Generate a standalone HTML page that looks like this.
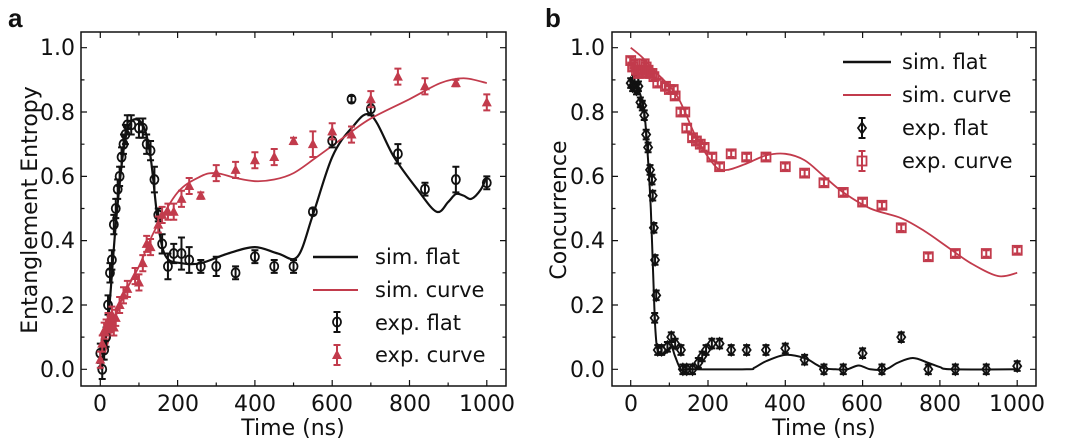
<!DOCTYPE html>
<html><head><meta charset="utf-8"><style>
html,body{margin:0;padding:0;background:#fff;}
svg{display:block;font-family:"DejaVu Sans","Liberation Sans",sans-serif;}
</style></head><body>
<svg id="s" width="1080" height="444" viewBox="0 0 1080 444" xmlns="http://www.w3.org/2000/svg">
<rect width="1080" height="444" fill="#fff"/>
<g id="plot"></g>
<g font-size="22" fill="#111">
<text x="8" y="27" font-size="26" font-weight="bold" font-family="Liberation Sans,sans-serif">a</text>
<text x="545" y="27" font-size="26" font-weight="bold" font-family="Liberation Sans,sans-serif">b</text>
<g text-anchor="end">
<text x="75" y="377">0.0</text><text x="75" y="313">0.2</text><text x="75" y="248">0.4</text><text x="75" y="184">0.6</text><text x="75" y="120">0.8</text><text x="75" y="55">1.0</text>
<text x="605" y="377">0.0</text><text x="605" y="313">0.2</text><text x="605" y="248">0.4</text><text x="605" y="184">0.6</text><text x="605" y="120">0.8</text><text x="605" y="55">1.0</text>
</g>
<g text-anchor="middle">
<text x="100" y="411">0</text><text x="178" y="411">200</text><text x="255" y="411">400</text><text x="332" y="411">600</text><text x="410" y="411">800</text><text x="487" y="411">1000</text>
<text x="631" y="411">0</text><text x="708" y="411">200</text><text x="785" y="411">400</text><text x="862" y="411">600</text><text x="940" y="411">800</text><text x="1017" y="411">1000</text>
<text x="293" y="435">Time (ns)</text><text x="824" y="435">Time (ns)</text>
<text transform="translate(37,210) rotate(-90)">Entanglement Entropy</text>
<text transform="translate(566,210) rotate(-90)">Concurrence</text>
</g>
<g font-size="21">
<text x="375" y="264">sim. flat</text><text x="375" y="297">sim. curve</text><text x="375" y="330">exp. flat</text><text x="375" y="362">exp. curve</text>
<text x="902" y="69">sim. flat</text><text x="902" y="102">sim. curve</text><text x="902" y="135">exp. flat</text><text x="902" y="168">exp. curve</text>
</g>
</g>
</svg>
<script>
var R="#c23b4c",NS="http://www.w3.org/2000/svg",G=document.getElementById("plot");
function el(t,a){var e=document.createElementNS(NS,t);for(var k in a)e.setAttribute(k,a[k]);G.appendChild(e);return e;}
function P(x0){return {x:function(t){return x0+t*0.3865;},y:function(v){return 369.3-v*321.6;}};}
function smooth(pts){var d="M"+pts[0][0]+","+pts[0][1];for(var i=0;i<pts.length-1;i++){var p0=pts[i-1]||pts[i],p1=pts[i],p2=pts[i+1],p3=pts[i+2]||p2;d+=" C"+(p1[0]+(p2[0]-p0[0])/6)+","+(p1[1]+(p2[1]-p0[1])/6)+" "+(p2[0]-(p3[0]-p1[0])/6)+","+(p2[1]-(p3[1]-p1[1])/6)+" "+p2[0]+","+p2[1];}return d;}
function curve(p,data,c,w){el("path",{d:smooth(data.map(function(q){return[p.x(q[0]),p.y(q[1])];})),fill:"none",stroke:c,"stroke-width":w});}
function marker(shape,cx,cy,c){
 if(shape=="o")el("ellipse",{cx:cx,cy:cy,rx:4,ry:4.5,fill:"none",stroke:c,"stroke-width":1.8});
 if(shape=="^")el("polygon",{points:(cx)+","+(cy-5.5)+" "+(cx+5)+","+(cy+4)+" "+(cx-5)+","+(cy+4),fill:c});
 if(shape=="d")el("polygon",{points:cx+","+(cy-5.5)+" "+(cx+4)+","+cy+" "+cx+","+(cy+5.5)+" "+(cx-4)+","+cy,fill:"none",stroke:c,"stroke-width":1.8});
 if(shape=="s")el("rect",{x:cx-4.5,y:cy-4.5,width:9,height:9,fill:"none",stroke:c,"stroke-width":1.8});
}
function pts(p,data,shape,c,e0){data.forEach(function(q){var x=p.x(q[0]),y=p.y(q[1]),e=(q[2]||e0)*321.6;
 el("path",{d:"M"+x+","+(y-e)+"V"+(y+e)+"M"+(x-3.5)+","+(y-e)+"h7M"+(x-3.5)+","+(y+e)+"h7",stroke:c,"stroke-width":2});marker(shape,x,y,c);});}
function frame(l,r){el("rect",{x:l,y:32,width:r-l,height:354,fill:"none",stroke:"#111","stroke-width":1.5});
 var x0=l==81?100.3:630.7;for(var t=0;t<=1000;t+=100){var x=x0+t*0.3865,L=t%200==0?6:3.5;el("path",{d:"M"+x+",386v-"+L+"M"+x+",32v"+L,stroke:"#111","stroke-width":1.2});}
 for(var v=0;v<=1.001;v+=0.1){var y=369.3-v*321.6,L=Math.round(v*10)%2==0?6:3.5;el("path",{d:"M"+l+","+y+"h"+L+"M"+r+","+y+"h-"+L,stroke:"#111","stroke-width":1.2});}}
frame(81,506);frame(612,1036);
var a=P(100.3),b=P(630.7);
curve(a,[[0,0],[20,0.15],[40,0.45],[60,0.68],[80,0.77],[110,0.76],[130,0.66],[150,0.45],[170,0.35],[210,0.33],[260,0.33],[330,0.36],[400,0.38],[460,0.36],[510,0.35],[550,0.48],[600,0.66],[650,0.75],[700,0.79],[760,0.66],[820,0.56],[870,0.49],[900,0.52],[920,0.545],[940,0.54],[960,0.53],[985,0.56],[1000,0.6]],"#111",2.2);
curve(a,[[0,0],[50,0.2],[100,0.32],[140,0.43],[200,0.55],[260,0.6],[300,0.61],[350,0.595],[400,0.585],[450,0.59],[500,0.61],[560,0.66],[640,0.73],[700,0.78],[800,0.84],[880,0.89],[940,0.905],[1000,0.89]],R,1.8);
pts(a,[[0,0.05],[5,0.0],[10,0.06],[15,0.1],[20,0.2],[25,0.3],[30,0.34],[35,0.45],[40,0.5],[45,0.56],[50,0.6],[55,0.66],[60,0.7],[65,0.73],[70,0.76],[80,0.76],[100,0.75],[110,0.75],[120,0.7],[130,0.68],[140,0.59,0.04],[150,0.48,0.02],[160,0.39],[175,0.32,0.04],[190,0.36],[210,0.36,0.05],[230,0.34,0.04],[260,0.32,0.02],[300,0.32],[350,0.3,0.02],[400,0.35,0.02],[450,0.32,0.02],[500,0.32,0.02],[550,0.49,0.01],[600,0.71,0.02],[650,0.84,0.01],[700,0.81,0.02],[770,0.67],[840,0.56,0.02],[920,0.59,0.04],[1000,0.58,0.02]],"o","#111",0.03);
pts(a,[[0,0.03],[5,0.08],[10,0.12],[15,0.13],[20,0.15],[25,0.14],[30,0.17],[35,0.13],[40,0.16],[50,0.2],[60,0.23],[70,0.25],[90,0.29],[100,0.27],[110,0.33],[120,0.39],[130,0.38],[150,0.45],[160,0.48],[175,0.49],[190,0.49],[210,0.53],[230,0.57],[260,0.54,0.01],[300,0.61],[350,0.62],[400,0.65],[450,0.66],[500,0.71,0.01],[550,0.7,0.04],[600,0.74],[650,0.73],[700,0.84],[770,0.91],[840,0.88],[920,0.89,0.01],[1000,0.83]],"^",R,0.025);
curve(b,[[0,0.9],[20,0.87],[35,0.8],[45,0.65],[52,0.5],[58,0.3],[64,0.12],[72,0.05],[90,0.05],[105,0.07],[115,0.04],[130,0.0],[150,0],[300,0],[320,0.005],[350,0.025],[400,0.045],[450,0.035],[480,0.015],[500,0.003],[530,0],[560,0],[590,0.012],[620,0],[660,0],[690,0.02],[730,0.035],[770,0.02],[800,0.007],[830,0],[1000,0]],"#111",2);
curve(b,[[0,1.0],[30,0.97],[60,0.93],[120,0.85],[170,0.72],[220,0.63],[250,0.62],[300,0.64],[350,0.665],[400,0.67],[450,0.65],[500,0.6],[550,0.55],[620,0.5],[700,0.47],[760,0.43],[820,0.38],[880,0.33],[950,0.29],[1000,0.3]],R,1.8);
pts(b,[[0,0.89],[5,0.88],[10,0.9],[15,0.87],[20,0.88],[25,0.83],[30,0.82],[35,0.79],[40,0.73],[45,0.69],[50,0.62],[55,0.59],[57,0.54],[60,0.44],[63,0.34],[66,0.23],[62,0.16],[70,0.06],[80,0.06],[95,0.07],[105,0.1],[115,0.08],[130,0.06],[135,0.0],[145,0.0],[160,0.0],[175,0.02],[185,0.04],[195,0.06],[210,0.08],[230,0.08],[260,0.06],[300,0.06],[350,0.06],[400,0.065],[450,0.03],[500,0.0],[550,0.0],[600,0.05],[650,0.0],[700,0.1],[770,0.0],[840,0.0],[920,0.0],[1000,0.01]],"d","#111",0.015);
pts(b,[[0,0.96],[5,0.94],[10,0.95],[15,0.93],[20,0.92],[25,0.93],[30,0.92],[35,0.95],[40,0.94],[45,0.93],[50,0.92],[55,0.92],[60,0.91],[70,0.89],[90,0.88],[100,0.87],[110,0.87],[115,0.85],[130,0.8],[140,0.8],[145,0.75],[160,0.72],[170,0.71],[180,0.7],[190,0.69],[210,0.66],[230,0.63],[260,0.67],[300,0.66],[350,0.66],[400,0.63],[450,0.61],[500,0.58],[550,0.55],[600,0.52],[650,0.51],[700,0.44],[770,0.35],[840,0.36],[920,0.36],[1000,0.37]],"s",R,0.01);
el("path",{d:"M313,257h45",stroke:"#111","stroke-width":2.5});el("path",{d:"M313,290h45",stroke:R,"stroke-width":2});
el("path",{d:"M843,62h48",stroke:"#111","stroke-width":2.5});el("path",{d:"M843,95h48",stroke:R,"stroke-width":2});
function leg(x,y,s,c){el("path",{d:"M"+x+","+(y-10)+"V"+(y+10)+"M"+(x-3.5)+","+(y-10)+"h7M"+(x-3.5)+","+(y+10)+"h7",stroke:c,"stroke-width":2});marker(s,x,y,c);}
leg(337,322,"o","#111");leg(337,355,"^",R);leg(862,128,"d","#111");leg(862,161,"s",R);
</script>
</body></html>
